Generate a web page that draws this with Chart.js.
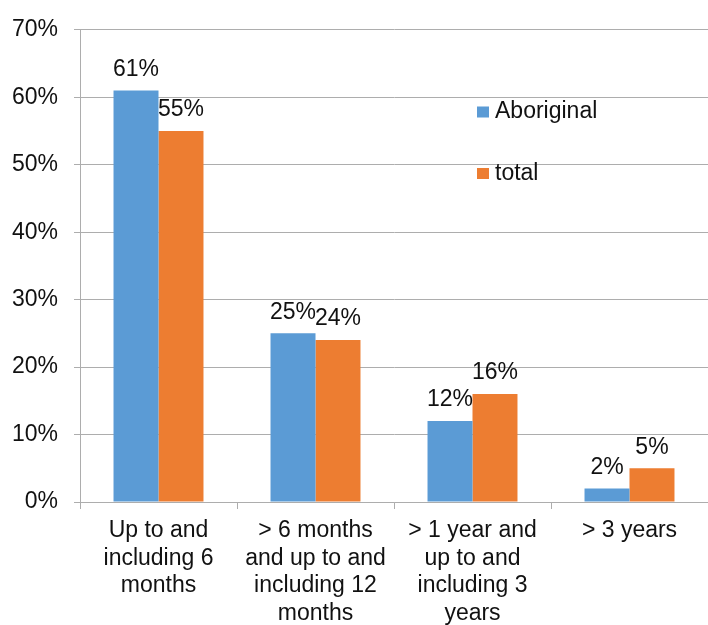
<!DOCTYPE html>
<html>
<head>
<meta charset="utf-8">
<script src="https://cdn.jsdelivr.net/npm/chart.js@4.4.1/dist/chart.umd.min.js"></script>
<style>
  html, body { margin: 0; padding: 0; background: #fff; }
  #wrap { width: 708px; height: 625px; }
</style>
</head>
<body>
<div id="wrap"><canvas id="durationChart"></canvas></div>
<script>
// categories (already wrapped into lines) and the two series, in percent
let categories = [
    ['Up to and', 'including 6', 'months'],
    ['> 6 months', 'and up to and', 'including 12', 'months'],
    ['> 1 year and', 'up to and', 'including 3', 'years'],
    ['> 3 years']
]
let aboriginal = [61, 25, 12, 2]
let total = [55, 24, 16, 5]
let seriesNames = ['Aboriginal', 'total']
let yTicks = [0, 10, 20, 30, 40, 50, 60, 70]

let fontFamily = '"Liberation Sans", Arial, sans-serif'
let fontSize = 23
let textColor = '#111'
let gridColor = '#ADADAD'

//percent labels above each bar
let barLabels = {
    id: 'barLabels',
    afterDatasetsDraw(chart) {
        let ctx = chart.ctx
        ctx.save()
        ctx.font = fontSize + 'px ' + fontFamily
        ctx.fillStyle = textColor
        ctx.textAlign = 'center'
        ctx.textBaseline = 'middle'
        chart.data.datasets.forEach(function (ds, i) {
            chart.getDatasetMeta(i).data.forEach(function (bar, j) {
                ctx.fillText(ds.data[j] + '%', bar.x, bar.y - 21)
            })
        })
        ctx.restore()
    }
}

//legend sits inside the plot, stacked with a big gap
let insideLegend = {
    id: 'insideLegend',
    afterDraw(chart) {
        let ctx = chart.ctx
        let x = 477
        let y = 112
        ctx.save()
        ctx.font = fontSize + 'px ' + fontFamily
        ctx.textBaseline = 'middle'
        chart.data.datasets.forEach(function (ds, i) {
            let rowY = y + i * 61.5
            ctx.fillStyle = ds.backgroundColor
            ctx.fillRect(x, rowY - 5.5, 12, 11)
            ctx.fillStyle = textColor
            ctx.fillText(ds.label, x + 18, rowY)
        })
        ctx.restore()
    }
}

let ctx = document.getElementById('durationChart').getContext('2d')

let durationChart = new Chart(ctx, {
    type: 'bar',
    data: {
        labels: categories,
        datasets: [
            { label: seriesNames[0], data: aboriginal, backgroundColor: '#5B9BD5' },
            { label: seriesNames[1], data: total, backgroundColor: '#ED7D31' }
        ]
    },
    options: {
        responsive: true,
        maintainAspectRatio: false,
        animation: false,
        categoryPercentage: 0.573,
        barPercentage: 1,
        layout: { padding: { top: 22, right: 0, bottom: 0, left: 0 } },
        plugins: {
            legend: { display: false },
            tooltip: { enabled: false }
        },
        scales: {
            x: {
                grid: {
                    drawOnChartArea: false,
                    drawTicks: true,
                    tickLength: 7,
                    color: gridColor
                },
                border: { color: gridColor },
                ticks: {
                    color: textColor,
                    padding: 8,
                    maxRotation: 0,
                    autoSkip: false,
                    font: { family: fontFamily, size: fontSize, lineHeight: 1.2 }
                },
                afterFit(scale) { scale.height = 123 }
            },
            y: {
                min: 0,
                max: 70,
                afterBuildTicks(scale) {
                    scale.ticks = yTicks.map(v => ({ value: v }))
                },
                grid: { color: gridColor, tickLength: 6 },
                border: { color: gridColor },
                ticks: {
                    color: textColor,
                    padding: 16,
                    font: { family: fontFamily, size: fontSize },
                    callback: v => v + '%'
                },
                afterFit(scale) { scale.width = 80 }
            }
        }
    },
    plugins: [barLabels, insideLegend]
})
</script>
</body>
</html>
